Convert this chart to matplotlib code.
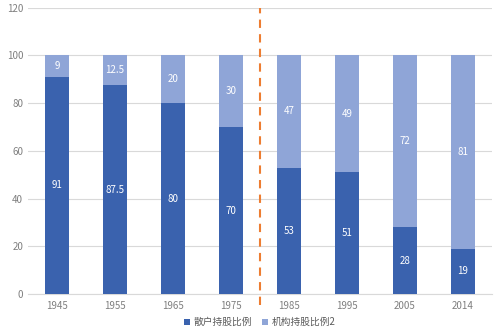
import matplotlib
matplotlib.use("Agg")
import matplotlib.pyplot as plt
import numpy as np

plt.rcParams['font.family'] = ['Noto Sans CJK SC', 'DejaVu Sans']

years = ["1945", "1955", "1965", "1975", "1985", "1995", "2005", "2014"]
retail = [91, 87.5, 80, 70, 53, 51, 28, 19]
inst = [9, 12.5, 20, 30, 47, 49, 72, 81]
yticks = [0, 20, 40, 60, 80, 100, 120]

dark = "#3A62AE"
light = "#8FA5D7"

fig = plt.figure(figsize=(5, 3.33), dpi=100)
ax = fig.add_axes([0.056, 0.117, 0.928, 0.86])
x = np.arange(len(years))
w = 0.4
ax.bar(x, retail, w, color=dark, label="散户持股比例", zorder=3)
ax.bar(x, inst, w, bottom=retail, color=light, label="机构持股比例2", zorder=3)

for i in range(len(years)):
    r = retail[i]; s = inst[i]
    ax.text(x[i], r / 2, f"{r:g}", ha="center", va="center", color="white", fontsize=7, zorder=4)
    ax.text(x[i], r + s / 2, f"{s:g}", ha="center", va="center", color="white", fontsize=7, zorder=4)

ax.set_xlim(-0.5, len(years) - 0.5)
ax.set_ylim(0, 120)
ax.set_yticks(yticks)
ax.set_xticks(x)
ax.set_xticklabels(years)
ax.grid(axis="y", color="#D9D9D9", linewidth=0.8, zorder=0)
for sp in ["top", "right", "left"]:
    ax.spines[sp].set_visible(False)
ax.spines["bottom"].set_color("#D9D9D9")
ax.tick_params(axis="both", length=0, colors="#7F7F7F", labelsize=7)
ax.tick_params(axis="x", pad=5)

ax.plot([3.5, 3.5], [-0.04, 1.0], transform=ax.get_xaxis_transform(), color="#ED7D31",
        linestyle=(0, (4, 3)), linewidth=1.5, clip_on=False, zorder=5)

leg = ax.legend(loc="center", bbox_to_anchor=(0.5, -0.098), ncol=2, frameon=False,
                fontsize=7, handlelength=0.6, handleheight=0.6, handletextpad=0.4,
                columnspacing=1.0, labelcolor="#595959", borderpad=0)

fig.savefig("out.png", dpi=100, facecolor="white")
